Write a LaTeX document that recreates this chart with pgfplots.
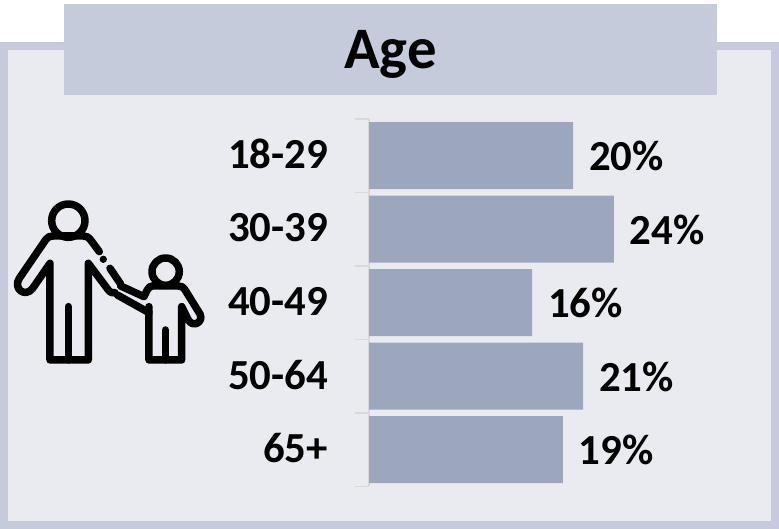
\documentclass[border=0pt]{standalone}
\usepackage{pgfplots}
\pgfplotsset{compat=1.18}
\usepackage{fontspec}
\setmainfont{Carlito}
\definecolor{frame}{HTML}{C5CBDB}
\definecolor{panel}{HTML}{E9EBF1}
\definecolor{bar}{HTML}{9CA7BE}
\definecolor{axisc}{HTML}{D9D9D9}
\begin{document}
\begin{tikzpicture}[x=1bp,y=1bp]
\fill[white] (0,0) rectangle (779,529);
\fill[frame] (0,0) rectangle (779,487);
\fill[panel] (8,8) rectangle (771,479);
\fill[frame] (64,434) rectangle (717,525);
\node[font=\fontsize{59}{59}\selectfont\bfseries,text=black] at (390.5,475) {Age};
% icon (traced in 3x zoom coordinates)
\begin{scope}[shift={(0,349)},x=0.3333bp,y=-0.3333bp,line width=7.5bp,line cap=round,line join=round,black]
\draw (205,122) circle (50);
\draw (298,215) -- (272,180) .. controls (264,170) and (258,168) .. (250,168) -- (160,168) .. controls (150,168) and (144,170) .. (138,178) -- (58,295) .. controls (38,325) and (75,355) .. (98,325) -- (150,250) -- (150,540) -- (265,540) -- (265,250) -- (325,330) .. controls (332,338) and (338,340) .. (345,338);
\draw (205,380) -- (205,540);
\fill (310,238) circle (11);
\draw (330,265) -- (362,312);
\draw (497,275) circle (41);
\draw (362,318) -- (432,350) -- (442,330) .. controls (446,322) and (450,318) .. (458,318) -- (535,318) .. controls (545,318) and (550,322) .. (554,328) -- (600,402) .. controls (612,425) and (580,445) .. (565,420) -- (545,380) -- (545,540) -- (447,540) -- (447,380);
\draw (352,345) -- (447,398);
\draw (497,450) -- (497,540);
\end{scope}
\begin{axis}[
  at={(369bp,42.5bp)},anchor=south west,
  width=408bp,height=367.5bp,scale only axis,
  xmin=0,xmax=40,ymin=-0.5,ymax=4.5,y dir=reverse,
  axis x line=none,
  axis y line=left,
  axis line style={-,draw=axisc,line width=1.2bp},
  ytick={0,1,2,3,4},
  yticklabels={18-29,30-39,40-49,50-64,65+},
  minor ytick={-0.5,0.5,1.5,2.5,3.5,4.5},
  major tick length=0pt,
  minor tick length=14bp,
  tick align=outside,
  tick style={draw=axisc,line width=1.2bp},
  yticklabel style={font=\fontsize{43}{43}\selectfont\bfseries,text=black,xshift=-41bp,yshift=1.5bp,inner sep=0pt,outer sep=0pt},
  xbar,
  bar width=67bp,
  clip=false,
  point meta=x,
  nodes near coords={\pgfmathprintnumber[assume math mode=true]{\pgfplotspointmeta}\%},
  nodes near coords style={font=\fontsize{43}{43}\selectfont\bfseries,text=black,anchor=west,xshift=12.5bp,yshift=-0.5bp},
  ]
\addplot[fill=bar,draw=none] coordinates {(20,0) (24,1) (16,2) (21,3) (19,4)};
\end{axis}
\end{tikzpicture}
\end{document}
